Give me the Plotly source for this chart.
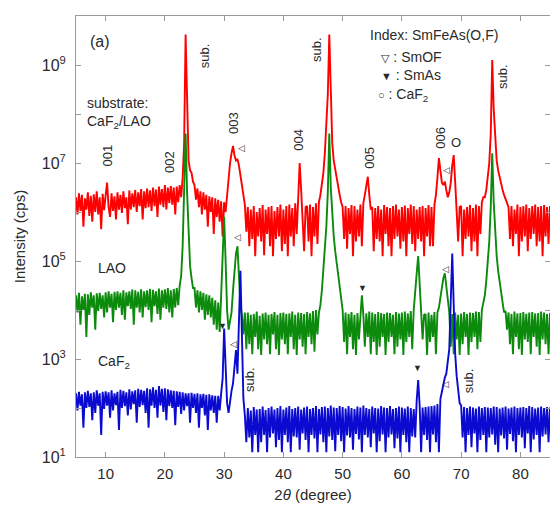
import numpy as np
import plotly.graph_objects as go

# 2-theta sampling grid (degrees)
two_theta = np.round(np.arange(5.0, 85.0 + 1e-9, 0.25), 2)

# log10(intensity / cps), 4 samples per degree
red_log10 = [
    6.30, 5.95, 6.38, 6.02,  # 5
    6.35, 5.70, 6.28, 6.05,  # 6
    6.40, 5.92, 6.33, 5.80,  # 7
    6.36, 6.00, 6.42, 5.95,  # 8
    6.30, 5.65, 6.37, 6.04,  # 9
    6.34, 6.60, 6.10, 5.90,  # 10
    6.38, 6.02, 6.32, 5.85,  # 11
    6.40, 6.05, 6.35, 5.98,  # 12
    6.42, 6.08, 6.30, 5.75,  # 13
    6.44, 6.05, 6.38, 6.10,  # 14
    6.45, 6.00, 6.40, 6.12,  # 15
    6.47, 5.85, 6.42, 6.08,  # 16
    6.48, 6.10, 6.44, 6.02,  # 17
    6.50, 6.12, 6.46, 5.90,  # 18
    6.52, 6.15, 6.47, 6.10,  # 19
    6.55, 6.05, 6.50, 6.18,  # 20
    6.53, 6.15, 6.50, 5.95,  # 21
    6.52, 6.20, 6.55, 6.30,  # 22
    6.70, 7.40, 9.62, 8.10,  # 23
    7.05, 6.85, 6.80, 6.62,  # 24
    6.55, 6.25, 6.48, 6.10,  # 25
    6.42, 5.95, 6.40, 6.05,  # 26
    6.35, 5.70, 6.32, 6.00,  # 27
    6.30, 5.55, 6.28, 5.90,  # 28
    6.25, 5.80, 6.22, 5.50,  # 29
    6.20, 6.00, 6.35, 6.75,  # 30
    7.00, 7.20, 7.35, 7.15,  # 31
    7.05, 7.08, 6.95, 6.75,  # 32
    6.55, 6.35, 6.15, 5.60,  # 33
    6.10, 5.30, 6.05, 5.45,  # 34
    6.12, 5.10, 6.00, 5.50,  # 35
    6.08, 5.40, 6.14, 5.12,  # 36
    6.05, 5.55, 6.10, 5.30,  # 37
    6.12, 5.10, 6.02, 5.45,  # 38
    6.10, 5.50, 6.15, 5.20,  # 39
    6.05, 5.35, 6.12, 5.10,  # 40
    6.15, 5.50, 6.08, 5.30,  # 41
    6.18, 5.55, 6.50, 7.00,  # 42
    6.45, 5.90, 5.20, 6.10,  # 43
    6.12, 5.40, 6.15, 5.10,  # 44
    6.10, 5.50, 6.18, 5.35,  # 45
    6.20, 6.35, 6.55, 6.80,  # 46
    7.20, 7.70, 8.40, 9.62,  # 47
    8.30, 7.40, 7.05, 6.85,  # 48
    6.65, 6.50, 6.35, 6.20,  # 49
    6.10, 5.45, 6.12, 5.25,  # 50
    6.08, 5.55, 6.14, 5.10,  # 51
    6.12, 5.40, 6.05, 5.50,  # 52
    6.15, 5.30, 6.18, 6.35,  # 53
    6.55, 6.72, 6.35, 6.05,  # 54
    6.10, 5.20, 6.08, 5.45,  # 55
    6.12, 5.40, 6.05, 5.10,  # 56
    6.14, 5.55, 6.10, 5.30,  # 57
    6.08, 5.10, 6.12, 5.45,  # 58
    6.15, 5.50, 6.05, 5.25,  # 59
    6.10, 5.40, 6.13, 5.10,  # 60
    6.08, 5.55, 6.15, 5.35,  # 61
    6.12, 5.20, 6.05, 5.45,  # 62
    6.10, 5.40, 6.12, 5.10,  # 63
    6.08, 5.50, 6.14, 5.30,  # 64
    6.10, 5.30, 6.15, 6.35,  # 65
    6.70, 7.10, 6.85, 6.60,  # 66
    6.55, 6.62, 6.45, 6.30,  # 67
    6.40, 6.60, 6.95, 7.16,  # 68
    6.60, 6.05, 5.40, 6.10,  # 69
    6.12, 5.10, 6.05, 5.45,  # 70
    6.10, 5.50, 6.14, 5.20,  # 71
    6.08, 5.40, 6.15, 5.10,  # 72
    6.12, 5.55, 6.20, 6.30,  # 73
    6.30, 6.45, 6.70, 7.00,  # 74
    7.60, 9.10, 8.10, 7.40,  # 75
    7.05, 6.85, 6.70, 6.55,  # 76
    6.45, 6.35, 6.25, 6.15,  # 77
    6.10, 5.45, 6.12, 5.30,  # 78
    6.05, 5.55, 6.15, 5.10,  # 79
    6.10, 5.40, 6.12, 5.50,  # 80
    6.15, 5.20, 6.08, 5.45,  # 81
    6.12, 5.55, 6.15, 5.30,  # 82
    6.10, 5.40, 6.12, 5.10,  # 83
    6.14, 5.50, 6.10, 5.35,  # 84
    6.12,                    # 85
]

green_log10 = [
    4.30, 3.95, 4.35, 3.70,  # 5
    4.28, 4.00, 4.33, 3.45,  # 6
    4.32, 3.90, 4.36, 4.05,  # 7
    4.30, 3.60, 4.34, 3.98,  # 8
    4.35, 4.02, 4.30, 3.85,  # 9
    4.36, 3.95, 4.38, 4.05,  # 10
    4.33, 3.75, 4.37, 4.00,  # 11
    4.38, 4.05, 4.35, 3.90,  # 12
    4.40, 3.80, 4.36, 4.08,  # 13
    4.38, 4.02, 4.42, 3.70,  # 14
    4.40, 4.05, 4.37, 3.95,  # 15
    4.42, 3.85, 4.38, 4.06,  # 16
    4.40, 4.00, 4.43, 3.75,  # 17
    4.41, 4.08, 4.38, 3.92,  # 18
    4.44, 3.80, 4.40, 4.05,  # 19
    4.42, 4.02, 4.45, 3.95,  # 20
    4.40, 3.85, 4.43, 4.05,  # 21
    4.45, 4.10, 4.50, 4.70,  # 22
    5.30, 6.50, 7.60, 6.40,  # 23
    5.40, 4.90, 4.65, 4.45,  # 24
    4.45, 4.05, 4.40, 3.95,  # 25
    4.38, 4.00, 4.35, 3.80,  # 26
    4.32, 3.90, 4.30, 3.85,  # 27
    4.25, 3.70, 4.20, 3.60,  # 28
    4.15, 3.55, 4.30, 5.00,  # 29
    5.90, 5.00, 4.00, 3.60,  # 30
    3.80, 3.95, 4.40, 4.85,  # 31
    5.15, 5.30, 4.70, 4.10,  # 32
    3.90, 3.50, 3.95, 3.20,  # 33
    3.95, 3.30, 3.90, 3.10,  # 34
    3.92, 3.45, 3.97, 3.20,  # 35
    3.88, 3.08, 3.93, 3.40,  # 36
    3.95, 3.30, 3.90, 3.10,  # 37
    3.92, 3.50, 3.96, 3.20,  # 38
    3.90, 3.08, 3.94, 3.40,  # 39
    3.95, 3.30, 3.92, 3.10,  # 40
    3.93, 3.45, 3.97, 3.20,  # 41
    3.90, 3.08, 3.95, 3.40,  # 42
    3.94, 3.25, 3.92, 3.10,  # 43
    3.96, 3.45, 3.93, 3.30,  # 44
    3.98, 3.15, 4.00, 3.50,  # 45
    3.95, 4.10, 4.40, 4.80,  # 46
    5.20, 5.70, 6.40, 7.60,  # 47
    6.50, 5.90, 5.50, 5.20,  # 48
    4.95, 4.70, 4.45, 4.20,  # 49
    4.00, 3.35, 3.95, 3.10,  # 50
    3.92, 3.45, 3.96, 3.20,  # 51
    3.90, 3.08, 3.94, 3.40,  # 52
    3.95, 4.30, 3.90, 3.25,  # 53
    3.93, 3.45, 3.97, 3.10,  # 54
    3.95, 3.35, 3.92, 3.08,  # 55
    3.96, 3.25, 3.94, 3.45,  # 56
    3.92, 3.08, 3.95, 3.35,  # 57
    3.94, 3.45, 3.90, 3.10,  # 58
    3.96, 3.25, 3.93, 3.40,  # 59
    3.95, 3.08, 3.97, 3.35,  # 60
    3.93, 3.45, 3.98, 3.20,  # 61
    4.00, 4.30, 4.75, 5.10,  # 62
    4.50, 3.95, 3.40, 3.90,  # 63
    3.92, 3.08, 3.95, 3.35,  # 64
    3.90, 3.45, 3.96, 3.10,  # 65
    3.95, 4.05, 4.25, 4.50,  # 66
    4.65, 4.75, 4.45, 4.15,  # 67
    3.95, 3.25, 3.92, 3.10,  # 68
    3.95, 3.40, 3.90, 3.08,  # 69
    3.93, 3.30, 3.96, 3.45,  # 70
    3.92, 3.08, 3.95, 3.35,  # 71
    3.94, 3.45, 3.97, 3.20,  # 72
    3.96, 3.35, 4.00, 4.15,  # 73
    4.30, 4.60, 4.95, 5.40,  # 74
    6.10, 7.20, 6.20, 5.50,  # 75
    5.10, 4.80, 4.55, 4.35,  # 76
    4.15, 3.95, 3.98, 3.60,  # 77
    3.95, 3.30, 3.92, 3.10,  # 78
    3.97, 3.45, 3.93, 3.20,  # 79
    3.94, 3.08, 3.96, 3.40,  # 80
    3.92, 3.35, 3.95, 3.10,  # 81
    3.96, 3.45, 3.93, 3.25,  # 82
    3.94, 3.08, 3.97, 3.40,  # 83
    3.95, 3.30, 3.92, 3.10,  # 84
    3.94,                    # 85
]

blue_log10 = [
    2.30, 1.95, 2.33, 2.05,  # 5
    2.28, 1.60, 2.32, 2.00,  # 6
    2.35, 2.02, 2.30, 1.75,  # 7
    2.32, 1.90, 2.36, 2.05,  # 8
    2.30, 1.45, 2.33, 1.98,  # 9
    2.34, 2.05, 2.32, 1.80,  # 10
    2.36, 1.95, 2.30, 2.06,  # 11
    2.33, 1.55, 2.37, 2.00,  # 12
    2.35, 2.04, 2.32, 1.85,  # 13
    2.38, 1.97, 2.34, 2.08,  # 14
    2.36, 1.70, 2.39, 2.02,  # 15
    2.37, 2.06, 2.35, 1.90,  # 16
    2.40, 1.60, 2.38, 2.05,  # 17
    2.42, 2.00, 2.37, 1.80,  # 18
    2.45, 2.05, 2.39, 1.92,  # 19
    2.40, 1.75, 2.38, 2.04,  # 20
    2.36, 2.00, 2.35, 1.65,  # 21
    2.34, 2.02, 2.33, 1.88,  # 22
    2.32, 1.95, 2.30, 2.04,  # 23
    2.30, 1.70, 2.31, 2.00,  # 24
    2.29, 1.90, 2.30, 1.60,  # 25
    2.28, 2.00, 2.29, 1.85,  # 26
    2.27, 1.55, 2.28, 1.95,  # 27
    2.26, 1.90, 2.25, 1.70,  # 28
    2.25, 1.95, 2.30, 2.60,  # 29
    3.62, 2.80, 2.10, 1.90,  # 30
    2.20, 2.35, 2.50, 2.85,  # 31
    3.18, 2.70, 3.60, 4.80,  # 32
    3.50, 2.20, 1.85, 1.30,  # 33
    2.00, 1.40, 1.95, 1.10,  # 34
    2.02, 1.45, 1.97, 1.10,  # 35
    1.98, 1.30, 2.03, 1.45,  # 36
    1.96, 1.10, 2.00, 1.40,  # 37
    2.03, 1.48, 1.97, 1.20,  # 38
    2.00, 1.35, 2.04, 1.10,  # 39
    1.97, 1.45, 2.01, 1.30,  # 40
    2.04, 1.10, 1.98, 1.42,  # 41
    2.00, 1.40, 2.03, 1.15,  # 42
    1.97, 1.48, 2.01, 1.35,  # 43
    2.03, 1.10, 1.98, 1.45,  # 44
    2.00, 1.38, 2.04, 1.10,  # 45
    1.98, 1.46, 2.02, 1.30,  # 46
    2.03, 1.10, 2.00, 1.42,  # 47
    2.05, 1.35, 2.01, 1.12,  # 48
    2.00, 1.45, 2.04, 1.32,  # 49
    2.02, 1.10, 1.99, 1.44,  # 50
    2.04, 1.40, 2.00, 1.15,  # 51
    1.98, 1.47, 2.03, 1.36,  # 52
    2.01, 1.10, 2.05, 1.45,  # 53
    2.00, 1.40, 1.98, 1.20,  # 54
    2.03, 1.48, 2.00, 1.10,  # 55
    1.99, 1.32, 2.04, 1.46,  # 56
    2.01, 1.10, 2.00, 1.40,  # 57
    2.04, 1.46, 1.98, 1.18,  # 58
    2.00, 1.38, 2.03, 1.10,  # 59
    2.01, 1.45, 1.99, 1.30,  # 60
    2.03, 1.10, 2.00, 1.42,  # 61
    1.98, 1.40, 2.15, 2.57,  # 62
    2.05, 1.10, 2.01, 1.45,  # 63
    2.02, 1.35, 2.03, 1.10,  # 64
    2.04, 1.46, 2.05, 1.30,  # 65
    2.08, 1.10, 2.18, 2.35,  # 66
    2.45, 2.62, 2.70, 2.90,  # 67
    3.20, 4.20, 5.15, 4.10,  # 68
    3.10, 2.65, 2.35, 2.10,  # 69
    2.05, 1.40, 2.02, 1.10,  # 70
    2.00, 1.45, 2.03, 1.20,  # 71
    2.01, 1.48, 1.99, 1.10,  # 72
    2.03, 1.35, 2.00, 1.45,  # 73
    2.02, 1.10, 2.01, 1.40,  # 74
    2.00, 1.46, 2.03, 1.25,  # 75
    2.02, 1.10, 1.99, 1.44,  # 76
    2.01, 1.38, 2.03, 1.15,  # 77
    1.99, 1.47, 2.01, 1.32,  # 78
    2.03, 1.10, 2.00, 1.45,  # 79
    2.01, 1.40, 2.02, 1.18,  # 80
    2.00, 1.48, 2.04, 1.10,  # 81
    2.02, 1.36, 1.99, 1.45,  # 82
    2.01, 1.10, 2.03, 1.42,  # 83
    2.00, 1.46, 2.02, 1.30,  # 84
    2.01,                    # 85
]

x_ticks = [10, 20, 30, 40, 50, 60, 70, 80]
y_decades = list(range(1, 11))
y_labelled = [1, 3, 5, 7, 9]

series = [
    ("CaF2/LAO", red_log10, "#ff0000"),
    ("LAO", green_log10, "#0c8a0c"),
    ("CaF2", blue_log10, "#0a0ad0"),
]

for _, vals, _ in series:
    assert len(vals) == len(two_theta), len(vals)

fig = go.Figure()
for name, vals, color in series:
    fig.add_trace(go.Scatter(
        x=two_theta, y=np.power(10.0, np.array(vals)), mode="lines",
        line=dict(color=color, width=1.9), name=name, showlegend=False,
        hoverinfo="skip"))

FONT = "Liberation Sans, Arial, DejaVu Sans, sans-serif"
TXT = "#2a2a2a"

annos = []


def ann(x, y, text, size=14, angle=0, xanchor="center"):
    annos.append(dict(x=x, y=y, xref="x", yref="y", text=text, showarrow=False,
                      textangle=angle, xanchor=xanchor, yanchor="middle",
                      font=dict(family=FONT, size=size, color=TXT)))


def sym(s):
    return '<span style="font-size:11px">%s</span>' % s


ann(9.0, 9.47, "(a)", size=16)
ann(26.6, 9.20, "sub.", size=13, angle=-90)
ann(10.3, 7.16, "001", size=13, angle=-90)
ann(20.7, 7.02, "002", size=13, angle=-90)
ann(31.7, 7.82, "003", size=13, angle=-90)
ann(33.0, 7.31, "◁", size=9)
ann(42.6, 7.47, "004", size=13, angle=-90)
ann(45.7, 9.31, "sub.", size=13, angle=-90)
ann(54.4, 7.10, "005", size=13, angle=-90)
ann(66.4, 7.51, "006", size=13, angle=-90)
ann(69.1, 7.41, "O", size=13)
ann(67.5, 6.86, "◁", size=9)
ann(77.1, 8.76, "sub.", size=13, angle=-90)
ann(65.4, 9.61, "Index: SmFeAs(O,F)", size=14)
ann(56.1, 9.16, sym("▽") + " : SmOF", size=14, xanchor="left")
ann(56.1, 8.80, sym("▼") + " : SmAs", size=14, xanchor="left")
ann(55.6, 8.39, sym("○") + " : CaF<sub>2</sub>", size=14, xanchor="left")
ann(6.6, 8.22, "substrate:", size=14, xanchor="left")
ann(6.6, 7.84, "CaF<sub>2</sub>/LAO", size=14, xanchor="left")
ann(8.3, 4.86, "LAO", size=14, xanchor="left")
ann(8.45, 2.94, "CaF<sub>2</sub>", size=14, xanchor="left")
ann(29.8, 3.67, "▼", size=9)
ann(31.5, 3.31, "◁", size=9)
ann(34.2, 2.57, "sub.", size=13, angle=-90)
ann(32.2, 5.49, "◁", size=9)
ann(53.4, 4.45, "▼", size=9)
ann(67.4, 4.84, "◁", size=9)
ann(62.7, 2.82, "▼", size=9)
ann(67.4, 2.49, "◁", size=9)
ann(71.2, 2.55, "sub.", size=13, angle=-90)

AX = "#9a9a9a"
fig.update_layout(
    width=550, height=510,
    margin=dict(l=76, r=0, t=16, b=53),
    paper_bgcolor="white", plot_bgcolor="white",
    font=dict(family=FONT, size=15, color=TXT),
    annotations=annos,
    xaxis=dict(
        range=[5, 85], tickvals=x_ticks, ticktext=[str(v) for v in x_ticks],
        ticks="inside", ticklen=5, tickcolor=AX, showline=True, linecolor=AX,
        linewidth=1, mirror="ticks", showgrid=False, zeroline=False,
        tickfont=dict(size=15, color=TXT), ticklabelstandoff=3,
        title=dict(text="2<i>θ</i> (degree)", font=dict(size=15, color=TXT),
                   standoff=8),
    ),
    yaxis=dict(
        type="log", range=[1, 10],
        tickvals=[10.0 ** k for k in y_decades],
        ticktext=[("10<sup>%d</sup>" % k) if k in y_labelled else "" for k in y_decades],
        ticks="inside", ticklen=5, tickcolor=AX, showline=True, linecolor=AX,
        linewidth=1, mirror="ticks", showgrid=False, zeroline=False,
        tickfont=dict(size=16, color=TXT), ticklabelstandoff=6,
        title=dict(text="Intensity (cps)", font=dict(size=15, color=TXT),
                   standoff=12),
    ),
)

fig.write_html("out.html")
